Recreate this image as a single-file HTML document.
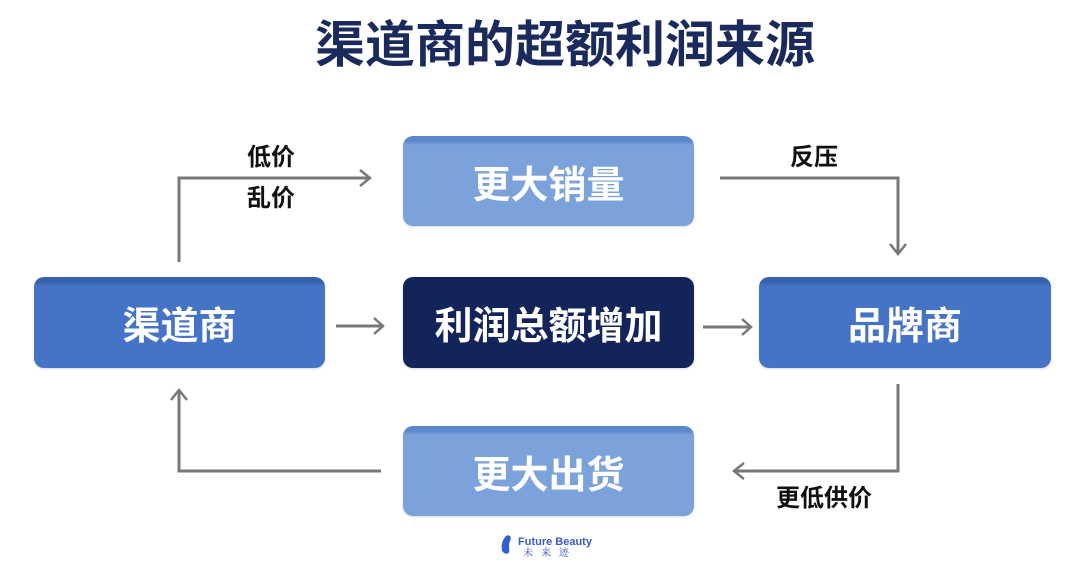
<!DOCTYPE html>
<html>
<head>
<meta charset="utf-8">
<style>
  html, body { margin:0; padding:0; }
  body { width:1080px; height:580px; background:#ffffff; position:relative; overflow:hidden;
         font-family:"Liberation Sans","Noto Sans CJK SC",sans-serif; }
  .title { position:absolute; left:290px; width:550px; top:19px; height:52px; line-height:52px;
           text-align:center; font-size:50px; font-weight:700; color:#1b2a5c;
           font-family:"Liberation Sans","Noto Sans CJK SC",sans-serif; white-space:nowrap; }
  .box { position:absolute; width:291px; height:91px; border-radius:10px; color:#fff;
         display:flex; align-items:center; justify-content:center;
         font-size:38px; font-weight:700; letter-spacing:0px;
         font-family:"Liberation Sans","Noto Sans CJK SC",sans-serif;
         box-shadow: 0 1px 2px rgba(0,0,0,0.15); }
  .light { background:linear-gradient(#5b87cd 0px, #5b87cd 5px, #7ba2da 9px, #7ba2da 100%); }
  .mid { background:linear-gradient(#3561ad 0px, #3561ad 5px, #4573c5 9px, #4573c5 100%); }
  .dark { background:#13245a; }
  .lbl { position:absolute; font-size:24px; font-weight:700; color:#111; line-height:28px;
         font-family:"Liberation Sans","Noto Sans CJK SC",sans-serif; white-space:nowrap; }
  .logo1 { position:absolute; left:518px; top:536px; font-size:11px; font-weight:700; color:#3a5bc7;
           font-family:"Liberation Sans",sans-serif; line-height:12px; white-space:nowrap; }
  .logo2 { position:absolute; left:523px; top:548px; font-size:10px; color:#2a4ab5; letter-spacing:8px;
           font-family:"Liberation Serif","Noto Serif CJK SC",serif; line-height:11px; white-space:nowrap; }
</style>
</head>
<body>
  <div class="title">渠道商的超额利润来源</div>

  <div class="box light" style="left:403px; top:136px; height:90px;">更大销量</div>
  <div class="box mid" style="left:34px; top:277px;">渠道商</div>
  <div class="box dark" style="left:403px; top:277px;">利润总额增加</div>
  <div class="box mid" style="left:759px; top:277px; width:292px;">品牌商</div>
  <div class="box light" style="left:403px; top:426px; height:90px;">更大出货</div>

  <div class="lbl" style="left:247px; top:144px;">低价</div>
  <div class="lbl" style="left:247px; top:185px;">乱价</div>
  <div class="lbl" style="left:790px; top:144px;">反压</div>
  <div class="lbl" style="left:776px; top:485px;">更低供价</div>

  <svg width="1080" height="580" style="position:absolute;left:0;top:0;" xmlns="http://www.w3.org/2000/svg">
    <g fill="none" stroke="#787878" stroke-width="3" stroke-linejoin="miter" stroke-linecap="butt">
      <!-- top-left -->
      <path d="M179 262 V178 H370"/>
      <path d="M360 170 L370 178 L360 186" stroke-width="2.5"/>
      <!-- top-right -->
      <path d="M720 178 H898 V254"/>
      <path d="M890 244 L898 254 L906 244" stroke-width="2.5"/>
      <!-- mid left arrow -->
      <path d="M336 326 H383"/>
      <path d="M374 318 L383 326 L374 334" stroke-width="2.5"/>
      <!-- mid right arrow -->
      <path d="M703 327 H751"/>
      <path d="M742 319 L751 327 L742 335" stroke-width="2.5"/>
      <!-- right down then left -->
      <path d="M898 384 V471 H734"/>
      <path d="M744 463 L734 471 L744 479" stroke-width="2.5"/>
      <!-- bottom-left -->
      <path d="M381 471 H179 V390"/>
      <path d="M171 400 L179 390 L187 400" stroke-width="2.5"/>
    </g>
    <!-- logo foot -->
    <path d="M506 536 C510 534 512 537 510 541 C508 545 510 549 509 552 C508 555 503 554 502 550 C501 546 502 540 506 536 Z" fill="#2f5fd0"/>
  </svg>
  <div class="logo1">Future Beauty</div>
  <div class="logo2">未来迹</div>
</body>
</html>
